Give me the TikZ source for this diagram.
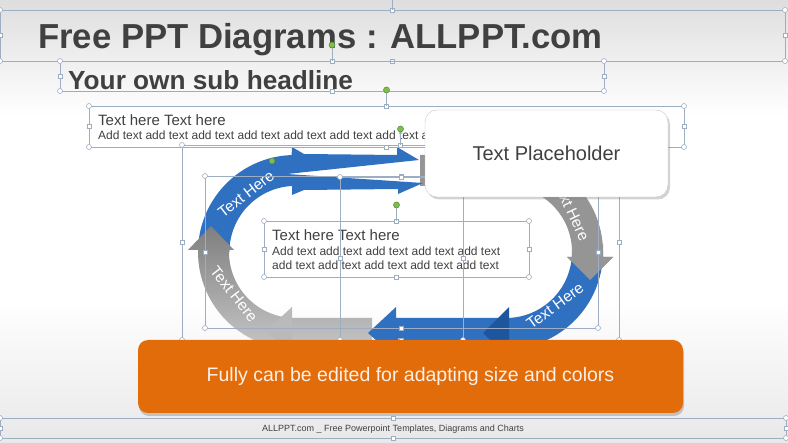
\documentclass[tikz,border=0pt]{standalone}
\usepackage{fontspec}
\setmainfont{Liberation Sans}
\usetikzlibrary{shadows}
\definecolor{loopblue}{HTML}{2F70C1}
\definecolor{loopbluedark}{HTML}{1D559F}
\definecolor{loopgray}{HTML}{959595}
\definecolor{loopgraylight}{HTML}{C6C6C6}
\definecolor{noteorange}{HTML}{E36C0A}
\definecolor{selblue}{HTML}{9DAEC2}
\definecolor{handlegreen}{HTML}{7DBF4E}
\definecolor{darktext}{HTML}{404040}
\tikzset{
  selbox/.style={draw=selblue,line width=0.7pt},
  handle/.style={draw=selblue,fill=white,line width=0.6pt},
  rothandle/.style={draw=handlegreen!70!black,fill=handlegreen,line width=0.5pt},
  looplabel/.style={text=white,font=\fontsize{15.5}{15.5}\selectfont,inner sep=0pt},
  plaintext/.style={anchor=base west,inner sep=0pt,text=darktext},
  placeholderbox/.style={draw=black!22,fill=white,rounded corners=12pt,minimum width=243pt,minimum height=87pt,inner sep=0pt,text=darktext,font=\fontsize{20}{20}\selectfont,drop shadow={shadow xshift=2pt,shadow yshift=-2.5pt,opacity=0.35}},
  notebox/.style={fill=noteorange,rounded corners=10pt,minimum width=545pt,minimum height=73pt,inner sep=0pt,text=white!90!noteorange,font=\fontsize{19.5}{19.5}\selectfont,drop shadow={shadow xshift=1pt,shadow yshift=-3pt,opacity=0.4}},
}
\begin{document}
\begin{tikzpicture}[x=1pt,y=-1pt]
\useasboundingbox (0,0) rectangle (788,443);
\shade[top color=black!13,bottom color=white] (0,0) rectangle (788,115);
\shade[top color=white,bottom color=black!9] (0,300) rectangle (788,443);

% loop of arrows
\fill[loopgray] (420,155) -- (506,155) arc[start angle=270,end angle=360,radius=97] -- (603,257) -- (613,257) -- (590,280) -- (567,257) -- (572,257) -- (572,252) arc[start angle=0,end angle=-90,radius=66] -- (420,186) -- cycle;
\fill[loopblue] (198,252) arc[start angle=180,end angle=268,radius=97] -- (292,147) -- (304,154) -- (397,155) -- (397,147) -- (419,160) -- (287,174) -- (423,183) -- (398,194) -- (398,189) -- (304,190) -- (292,195) -- (292,186) arc[start angle=267,end angle=180,radius=66] -- cycle;
\shade[top color=loopgray!85!black,bottom color=loopgraylight] (372,349) -- (295,349) arc[start angle=90,end angle=180,radius=97] -- (198,250) -- (188,250) -- (211,226) -- (234,250) -- (229,250) -- (229,252) arc[start angle=180,end angle=90,radius=66] -- (372,318) -- cycle;
\fill[loopgraylight!75!loopgray] (292,307) -- (266,331) -- (292,355) -- cycle;
\fill[loopblue] (603,252) arc[start angle=0,end angle=90,radius=97] -- (396,349) -- (396,358) -- (368,333) -- (396,307) -- (396,318) -- (506,318) arc[start angle=90,end angle=0,radius=66] -- cycle;
\fill[loopbluedark] (509,307) -- (483,333) -- (509,359) -- cycle;
\fill[loopgray] (572,244) -- (603,244) -- (603,257) -- (613,257) -- (590,280) -- (567,257) -- (572,257) -- cycle;

\node[looplabel,rotate=38] (labeltop) at (246,194) {Text Here};
\node[looplabel,rotate=-52] (labelleft) at (234,294) {Text Here};
\node[looplabel,rotate=-65] (labelright) at (571,210) {Text Here};
\node[looplabel,rotate=36] (labelbottom) at (555,306) {Text Here};

% texts
\node[plaintext,font=\bfseries\fontsize{34.7}{34.7}\selectfont] (title) at (38,49) {Free PPT Diagrams : ALLPPT.com};
\node[plaintext,font=\bfseries\fontsize{26.2}{26.2}\selectfont] (subtitle) at (68,90) {Your own sub headline};
\node[plaintext,font=\fontsize{15}{15}\selectfont] (headtop) at (98,126) {Text here Text here};
\node[plaintext,font=\fontsize{12}{12}\selectfont] (bodytop) at (98,140) {Add text add text add text add text add text add text add text add text add text add text};
\node[plaintext,font=\fontsize{15}{15}\selectfont] (headmid) at (272,241) {Text here Text here};
\node[plaintext,font=\fontsize{12}{12}\selectfont] (bodymid) at (272,256) {Add text add text add text add text add text};
\node[plaintext,font=\fontsize{12}{12}\selectfont] (bodymidb) at (272,270) {add text add text add text add text add text};

% selection frames
\foreach \ax/\ay/\bx/\by in {0/10/785/61,60/61/604/91,89/106/684/147,182/145/619/340,205/176/598/328,340/177/463/340,264/221/529/277,0/418/786/438}{
  \pgfmathsetmacro\mx{(\ax+\bx)/2}
  \pgfmathsetmacro\my{(\ay+\by)/2}
  \draw[selbox] (\ax,\ay) rectangle (\bx,\by);
  \foreach \hx/\hy in {\ax/\ay,\bx/\ay,\ax/\by,\bx/\by}
    \filldraw[handle] (\hx,\hy) circle (2.5);
  \foreach \hx/\hy in {\mx/\ay,\mx/\by,\ax/\my,\bx/\my}
    \filldraw[handle] (\hx-2,\hy-2) rectangle (\hx+2,\hy+2);
}
\draw[selbox] (392.5,0) -- (392.5,10);
\foreach \rx/\ry in {332/61,386.5/106,400.5/145,396.5/221}{
  \draw[selbox] (\rx,\ry) -- (\rx,\ry-16);
  \filldraw[rothandle] (\rx,\ry-16) circle (3);
}
\filldraw[rothandle] (272,161) circle (3);

\node[placeholderbox] (placeholder) at (546.5,153.5) {Text Placeholder};
\node[notebox] (note) at (410.5,376.5) {Fully can be edited for adapting size and colors};
\node[font=\fontsize{9}{9}\selectfont,text=darktext,inner sep=0pt,anchor=base] (footer) at (393,432) {ALLPPT.com \_ Free Powerpoint Templates, Diagrams and Charts};
\end{tikzpicture}
\end{document}
